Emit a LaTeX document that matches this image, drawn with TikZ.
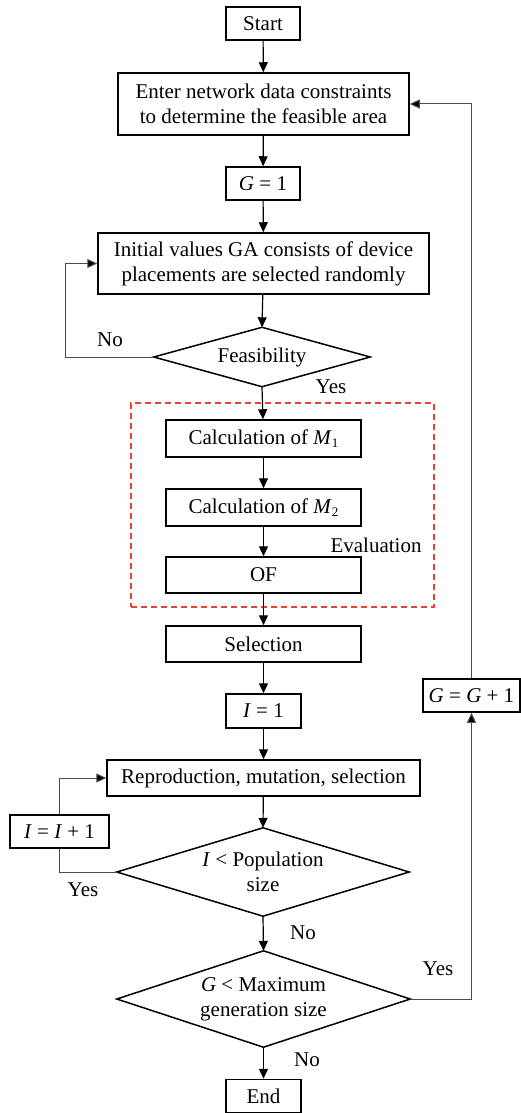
\documentclass[tikz,border=0pt]{standalone}
\usepackage{fontspec}
\setmainfont{Liberation Serif}
\usetikzlibrary{arrows.meta,calc}
\newcommand\lsub[1]{\raisebox{-0.3ex}{\fontsize{13}{13}\selectfont #1}}
\tikzset{
  box/.style={draw=black,line width=1.5pt,rectangle,inner sep=0pt,align=center,font=\fontsize{21}{25}\selectfont},
  dec/.style={rectangle,inner sep=0pt,align=center,font=\fontsize{21}{25}\selectfont},
  decline/.style={draw=black,line width=1.5pt,line join=miter},
  arr/.style={line width=1.2pt,-{Triangle[length=10pt,width=9pt]}},
  fb/.style={line width=1pt,draw=black!70},
  fbarr/.style={fb,-{Triangle[length=10pt,width=9pt,fill=black]}},
  lbl/.style={font=\fontsize{21}{25}\selectfont,inner sep=0pt},
}
\begin{document}
\begin{tikzpicture}[x=1pt,y=-1pt]
\useasboundingbox (0,0) rectangle (521,1113);
\node[box,minimum width=74pt,minimum height=33pt] (start) at (263,23.5) {Start};
\node[box,minimum width=291pt,minimum height=62pt] (enter) at (263.5,104) {Enter network data constraints\\to determine the feasible area};
\node[box,minimum width=74pt,minimum height=33pt] (g1) at (263,183.5) {\textit{G} = 1};
\node[box,minimum width=331pt,minimum height=61pt] (init) at (263.5,263.5) {Initial values GA consists of device\\placements are selected randomly};
\node[dec,minimum width=216pt,minimum height=59pt] (feas) at (262,357) {Feasibility};
\draw[decline] (feas.north) -- (feas.east) -- (feas.south) -- (feas.west) -- cycle;
\node[draw={rgb,255:red,232;green,67;blue,45},line width=1.5pt,dash pattern=on 6pt off 4pt,minimum width=303pt,minimum height=204pt,inner sep=0pt] (eval) at (282.5,505) {};
\node[box,minimum width=195pt,minimum height=37pt] (m1) at (263.5,438.5) {Calculation of \textit{M}\lsub{1}};
\node[box,minimum width=195pt,minimum height=37pt] (m2) at (263.5,507.5) {Calculation of \textit{M}\lsub{2}};
\node[box,minimum width=195pt,minimum height=36pt] (of) at (263.5,575) {OF};
\node[lbl] (evl) at (376,545) {Evaluation};
\node[box,minimum width=195pt,minimum height=36pt] (sel) at (263.5,644) {Selection};
\node[box,minimum width=75pt,minimum height=34pt] (i1) at (263.5,711) {\textit{I} = 1};
\node[box,minimum width=97pt,minimum height=33pt] (gg) at (471.5,695.5) {\textit{G} = \textit{G} + 1};
\node[box,minimum width=313pt,minimum height=36pt] (rep) at (263.5,778) {Reproduction, mutation, selection};
\node[box,minimum width=99pt,minimum height=33pt] (ii) at (59.5,831.5) {\textit{I} = \textit{I} + 1};
\node[dec,minimum width=292pt,minimum height=88pt] (pop) at (263,872) {\textit{I} < Population\\size};
\draw[decline] (pop.north) -- (pop.east) -- (pop.south) -- (pop.west) -- cycle;
\node[dec,minimum width=293pt,minimum height=96pt] (max) at (263.5,999) {\textit{G} < Maximum\\generation size};
\draw[decline] (max.north) -- (max.east) -- (max.south) -- (max.west) -- cycle;
\node[box,minimum width=75pt,minimum height=33pt] (end) at (263.5,1096) {End};
\node[lbl] (no1) at (110,340) {No};
\node[lbl] (yes1) at (331,387) {Yes};
\node[lbl] (yes2) at (83,890) {Yes};
\node[lbl] (no2) at (303,933) {No};
\node[lbl] (yes3) at (438,969) {Yes};
\node[lbl] (no3) at (307,1060) {No};
\coordinate (nl) at (65,357);
\draw[arr] (start) -- (enter);
\draw[arr] (enter) -- (g1);
\draw[arr] (g1) -- (init);
\draw[arr] (init) -- (feas.north);
\draw[arr] (feas.south) -- (m1);
\draw[arr] (m1) -- (m2);
\draw[arr] (m2) -- (of);
\draw[arr] (of) -- (sel);
\draw[arr] (sel) -- (i1);
\draw[arr] (i1) -- (rep);
\draw[arr] (rep) -- (pop.north);
\draw[arr] (pop.south) -- (max.north);
\draw[arr] (max.south) -- (end);
\draw[fbarr] (feas.west) -- (nl) |- (init.west);
\draw[fb] (pop.west) -| (ii.south);
\draw[fbarr] (ii.north) |- (rep.west);
\draw[fbarr] (max.east) -| (gg.south);
\draw[fbarr] (gg.north) |- (enter.east);
\end{tikzpicture}
\end{document}
